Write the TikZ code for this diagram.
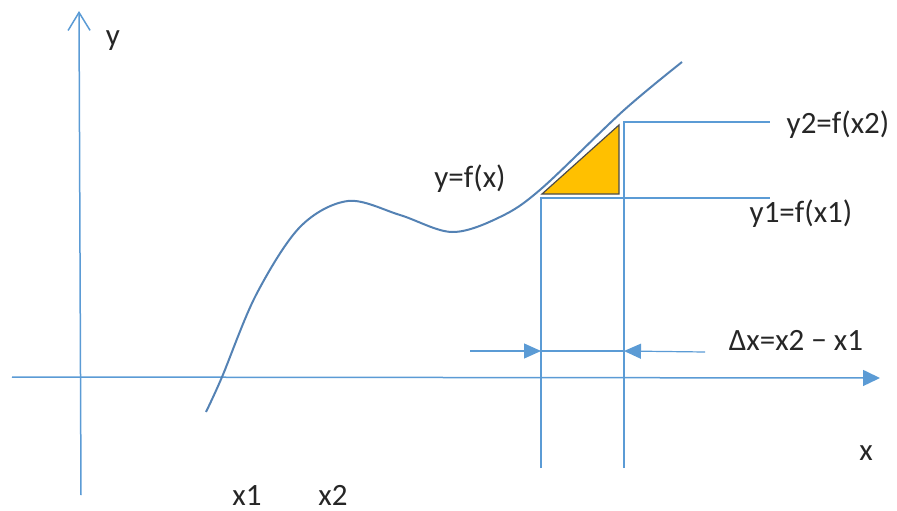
\documentclass[tikz,border=0pt]{standalone}
\usepackage{fontspec}
\setmainfont{Carlito}
\usepackage{xcolor}
\usetikzlibrary{arrows.meta}
\definecolor{axisblue}{RGB}{91,155,213}
\definecolor{curveblue}{RGB}{84,130,180}
\definecolor{triorange}{RGB}{255,192,0}
\tikzset{lbl/.style={inner sep=0pt,anchor=base,font=\fontsize{31}{36}\selectfont,text=black!85}}

\begin{document}
\begin{tikzpicture}[x=1pt,y=-1pt,>={Triangle[length=17pt,width=15pt]}]
\useasboundingbox (0,0) rectangle (897,511);
% axes
\coordinate (ybot) at (81,495);
\coordinate (ytop) at (79,11);
\coordinate (xleft) at (12,377);
\coordinate (xright) at (880,378);
\draw[axisblue,line width=1.5pt,-{Straight Barb[length=18pt,width=22pt]}](ybot)--(ytop);
\draw[axisblue,line width=1.5pt,-{Triangle[length=17pt,width=16pt]}](xleft)--(xright);
\node[lbl](ylab) at (113,46){y};
\node[lbl](xlab) at (866,460){x};
% curve
\draw[curveblue,line width=2pt,smooth,tension=0.55]plot coordinates{(206,412)(222,377)(256,295)(300,227)(348,201)(400,215)(452,232)(500,217)(541,189)(623,111)(682,62)};
\node[lbl](flab) at (470,187){y=f(x)};
% triangle
\coordinate (A) at (542,194);
\coordinate (B) at (619,194);
\coordinate (C) at (619,125);
\filldraw[fill=triorange,draw=black!70,line width=1.2pt](A)--(B)--(C)--cycle;
% guide lines
\coordinate (x1top) at (541,198);
\coordinate (x1bot) at (541,468);
\coordinate (x2top) at (624,122);
\coordinate (x2bot) at (624,468);
\coordinate (y1end) at (770,198);
\coordinate (y2end) at (770,122);
\draw[axisblue,line width=1.2pt](x1bot)--(x1top)--(y1end);
\draw[axisblue,line width=1.2pt](x2bot)--(x2top)--(y2end);
\node[lbl](y2lab) at (838,133){y2=f(x2)};
\node[lbl](y1lab) at (801,222){y1=f(x1)};
% delta x
\coordinate (dl) at (470,351);
\coordinate (dxl) at (541,351);
\coordinate (dxr) at (624,351);
\coordinate (dr) at (705,352);
\draw[axisblue,line width=1.2pt,->](dl)--(dxl);
\draw[axisblue,line width=1.2pt](dxl)--(dxr);
\draw[axisblue,line width=1.2pt,->](dr)--(dxr);
\node[lbl](dxlab) at (796,350){Δx=x2 − x1};
\node[lbl](x1lab) at (247,505){x1};
\node[lbl](x2lab) at (333,505){x2};
\end{tikzpicture}
\end{document}
